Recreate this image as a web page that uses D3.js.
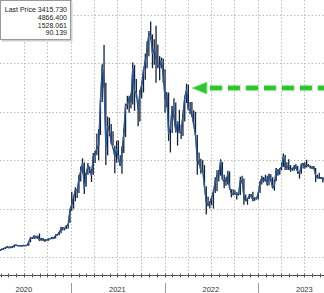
<!DOCTYPE html>
<html>
<head>
<meta charset="utf-8">
<script src="https://cdn.jsdelivr.net/npm/d3@7"></script>
<style>
  html, body { margin: 0; padding: 0; background: #fff; }
  svg { display: block; font-family: "Liberation Sans", Arial, sans-serif; }
</style>
</head>
<body>
<div id="chart"></div>
<script>
// weekly bars, week starting Monday 2020-03-16
const firstWeek = '2020-03-16';

const lows = [
  105, 125, 125, 140, 150, 165, 190, 195, 180, 195, 198, 225, 225, 223, 217, 222, 235, 230, 235, 305,
  370, 370, 400, 375, 330, 335, 350, 310, 335, 335, 365, 368, 375, 385, 440, 450, 490, 550, 550, 580,
  590, 700,
  950, 1000, 1150, 1220, 1320, 1560, 1730, 1300, 1450, 1700, 1730, 1550, 1700, 1940, 2100, 2000, 2520, 3200,
  3500, 1900, 2100, 2500, 2330, 2300, 1730, 1950, 2090, 1880, 1720, 2150, 2480, 3050, 2980, 3070, 3150, 3020,
  3300, 2700, 2800, 3280, 3400, 3660, 3900, 4150, 4500, 3900, 3970, 3600, 3900, 3650, 3900, 3600,
  2980, 3100, 2400, 2160, 2560, 2880, 2570, 2300, 2570, 2440, 2500, 2800, 3180, 3030, 2950, 2900, 2710, 2500,
  1700, 1900, 1720, 1760, 1450, 880, 1050, 1000, 1070, 1000, 1320, 1360, 1560, 1680, 1600, 1420, 1470, 1500,
  1420, 1230, 1270, 1300, 1190, 1270, 1280, 1520, 1080, 1170, 1080, 1200, 1230, 1150, 1160, 1190,
  1190, 1320, 1500, 1540, 1560, 1470, 1480, 1570, 1420, 1370, 1570, 1680, 1700, 1790, 1860, 1800, 1800, 1800,
  1760, 1780, 1780, 1820, 1720, 1620, 1720, 1830, 1830, 1850, 1870, 1830, 1820, 1820, 1550, 1620, 1620, 1610,
  1540, 1570
];
const highs = [
  145, 150, 152, 175, 175, 200, 227, 217, 215, 215, 245, 252, 250, 240, 236, 245, 246, 240, 322, 415,
  402, 445, 440, 440, 488, 385, 392, 360, 362, 380, 388, 420, 410, 465, 475, 520, 625, 620, 600, 660,
  680, 990,
  1350, 1260, 1440, 1400, 1700, 1870, 2040, 1950, 1740, 1940, 1870, 1820, 2150, 2190, 2550, 2640, 3250, 3980,
  4380, 3600, 2900, 2880, 2750, 2600, 2300, 2400, 2410, 2100, 2290, 2650, 3170, 3330, 3330, 3380, 4020, 3970,
  3680, 3150, 3450, 3620, 3880, 4200, 4460, 4670, 4866, 4600, 4500, 4780, 4390, 4150, 4120, 4100,
  3880, 3410, 3400, 2720, 3120, 3280, 3190, 2800, 3040, 2730, 2960, 3310, 3580, 3560, 3200, 3200, 3030, 3000,
  2520, 2160, 2030, 2000, 1900, 1460, 1250, 1150, 1240, 1370, 1650, 1790, 1800, 2020, 1960, 1700, 1650, 1780,
  1770, 1400, 1400, 1380, 1340, 1340, 1660, 1680, 1620, 1290, 1220, 1300, 1300, 1350, 1230, 1230,
  1330, 1560, 1680, 1650, 1700, 1680, 1720, 1710, 1650, 1600, 1840, 1820, 1840, 1940, 2140, 2110, 1960, 2020,
  1900, 1850, 1900, 1920, 1880, 1760, 1930, 1940, 1960, 2010, 1920, 1890, 1880, 1880, 1840, 1700, 1740, 1650,
  1650, 1620
];
const closes = [
  131, 131, 143, 158, 171, 194, 211, 188, 207, 206, 243, 246, 231, 230, 229, 240, 238, 236, 310, 390,
  395, 433, 390, 432, 353, 382, 345, 355, 345, 375, 380, 398, 385, 450, 460, 510, 570, 590, 590, 640,
  670, 975,
  1090, 1230, 1380, 1370, 1610, 1780, 1940, 1420, 1720, 1880, 1800, 1690, 2080, 2150, 2250, 2300, 3230, 3930,
  3600, 2280, 2700, 2600, 2380, 2250, 2080, 2230, 2030, 1890, 2170, 2560, 3140, 3150, 3280, 3220, 3900, 3410,
  3400, 3060, 3400, 3560, 3850, 4050, 4300, 4610, 4590, 4200, 4300, 4120, 3950, 3940, 4050, 3770,
  3270, 3340, 2540, 2660, 3110, 2890, 2600, 2790, 2570, 2570, 2950, 3300, 3460, 3050, 3040, 2940, 2730, 2520,
  2000, 1970, 1770, 1800, 1460, 1130, 1070, 1120, 1230, 1350, 1550, 1680, 1700, 1990, 1610, 1550, 1570, 1710,
  1440, 1310, 1310, 1300, 1300, 1300, 1580, 1570, 1230, 1160, 1200, 1260, 1280, 1170, 1220, 1200,
  1320, 1550, 1630, 1580, 1630, 1510, 1700, 1600, 1430, 1470, 1820, 1720, 1820, 1860, 2080, 1860, 1860, 1880,
  1800, 1820, 1850, 1860, 1760, 1720, 1900, 1930, 1880, 1890, 1890, 1860, 1840, 1850, 1680, 1650, 1630, 1640,
  1620, 1590
];

const legendLabels = ['Last Price', '', '', ''];
const legendValues = ['3415.730', '4866.400', '1528.061', '90.139'];
const yTicks = [0, 1000, 2000, 3000, 4000, 5000];
const yearLabels = ['2020', '2021', '2022', '2023'];
const arrowLevel = 3490;
const arrowFrom = '2022-04-18';

const width = 324;
const height = 293;
const axisY = 275;

const parse = d3.timeParse('%Y-%m-%d');
const start = parse(firstWeek);
const data = closes.map((c, i) => ({
  date: d3.timeDay.offset(start, 7 * i),
  close: c, high: highs[i], low: lows[i]
}));

const x = d3.scaleTime()
  .domain([new Date(2021, 0, 1), new Date(2023, 0, 1)])
  .range([71, 258]);
const y = d3.scaleLinear().domain([0, 5000]).range([257, 15]);

const svg = d3.select('#chart').append('svg')
  .attr('width', width).attr('height', height)
  .attr('viewBox', `0 0 ${width} ${height}`);

svg.append('defs').append('clipPath').attr('id', 'plot')
  .append('rect').attr('x', 0).attr('y', 0).attr('width', width).attr('height', axisY);

// grid
const quarters = d3.timeMonth.every(3).range(new Date(2020, 0, 1), new Date(2024, 0, 1))
  .filter(d => x(d) > 5 && x(d) < width);
svg.append('g').selectAll('line').data(quarters).join('line')
  .attr('x1', d => Math.round(x(d)) + 0.5).attr('x2', d => Math.round(x(d)) + 0.5)
  .attr('y1', 0).attr('y2', axisY)
  .attr('stroke', '#bdbdbd').attr('stroke-width', 1).attr('stroke-dasharray', '1.5,2');
svg.append('g').selectAll('line').data(yTicks).join('line')
  .attr('x1', 0).attr('x2', width)
  .attr('y1', d => Math.round(y(d)) + 0.5).attr('y2', d => Math.round(y(d)) + 0.5)
  .attr('stroke', '#bdbdbd').attr('stroke-width', 1).attr('stroke-dasharray', '1.5,2');

// price: dark high-low bars, blue close line inside
const plot = svg.append('g').attr('clip-path', 'url(#plot)');
plot.selectAll('line.bar').data(data).join('line')
  .attr('class', 'bar')
  .attr('x1', d => x(d.date)).attr('x2', d => x(d.date))
  .attr('y1', d => y(d.high)).attr('y2', d => y(d.low))
  .attr('stroke', '#14223d').attr('stroke-width', 1.3);
plot.append('path').datum(data)
  .attr('d', d3.line().x(d => x(d.date)).y(d => y(d.close)))
  .attr('fill', 'none').attr('stroke', '#1b2a48').attr('stroke-width', 1.3)
  .attr('stroke-linejoin', 'round');
plot.append('path').datum(data)
  .attr('d', d3.line().x(d => x(d.date)).y(d => y(d.close)))
  .attr('fill', 'none').attr('stroke', '#3a78c8').attr('stroke-width', 0.7)
  .attr('stroke-linejoin', 'round');

// green arrow
const ax = x(parse(arrowFrom));
const ay = y(arrowLevel);
const arrow = svg.append('g');
arrow.append('line')
  .attr('x1', ax + 18).attr('x2', width + 10).attr('y1', ay).attr('y2', ay)
  .attr('stroke', '#8fe08f').attr('stroke-width', 7).attr('stroke-opacity', 0.45)
  .attr('stroke-dasharray', '13,5');
arrow.append('line')
  .attr('x1', ax + 18).attr('x2', width + 10).attr('y1', ay).attr('y2', ay)
  .attr('stroke', '#2fc42f').attr('stroke-width', 4.5)
  .attr('stroke-dasharray', '12,6');
arrow.append('path')
  .attr('d', `M${ax},${ay} L${ax + 15},${ay - 6} L${ax + 15},${ay + 6} Z`)
  .attr('fill', '#2fc42f').attr('stroke', '#8fe08f').attr('stroke-width', 1);

// x axis
svg.append('line').attr('x1', 0).attr('x2', width)
  .attr('y1', axisY + 0.5).attr('y2', axisY + 0.5)
  .attr('stroke', '#555').attr('stroke-width', 1);
const months = d3.timeMonth.range(new Date(2020, 0, 1), new Date(2024, 0, 1))
  .filter(d => x(d) >= 0 && x(d) <= width);
svg.append('g').selectAll('line').data(months).join('line')
  .attr('x1', d => Math.round(x(d)) + 0.5).attr('x2', d => Math.round(x(d)) + 0.5)
  .attr('y1', axisY - 1.5).attr('y2', axisY + 2.5)
  .attr('stroke', '#555').attr('stroke-width', 1);
const yearStarts = yearLabels.map(t => new Date(+t, 0, 1)).filter(d => x(d) > 0);
svg.append('g').selectAll('line').data(yearStarts).join('line')
  .attr('x1', d => Math.round(x(d)) + 0.5).attr('x2', d => Math.round(x(d)) + 0.5)
  .attr('y1', axisY + 8).attr('y2', height)
  .attr('stroke', '#999').attr('stroke-width', 1);
svg.append('g').selectAll('text').data(yearLabels).join('text')
  .attr('x', t => x(new Date(+t, 6, 1))).attr('y', 292)
  .attr('text-anchor', 'middle').attr('font-size', 7.5).attr('fill', '#333')
  .text(t => t);

// legend box
const leg = svg.append('g');
leg.append('rect').attr('x', 1.5).attr('y', 1.5).attr('width', 71).attr('height', 40)
  .attr('fill', '#cfcfcf');
leg.append('rect').attr('x', 0.5).attr('y', 0.5).attr('width', 70).attr('height', 39)
  .attr('fill', '#fff').attr('stroke', '#9a9a9a').attr('stroke-width', 1);
leg.selectAll('text').data(legendValues).join('text')
  .attr('x', 67).attr('y', (d, i) => 12 + i * 7.8)
  .attr('text-anchor', 'end').attr('font-size', 7).attr('fill', '#222')
  .text((d, i) => (legendLabels[i] ? legendLabels[i] + ' ' : '') + d);
</script>
</body>
</html>
